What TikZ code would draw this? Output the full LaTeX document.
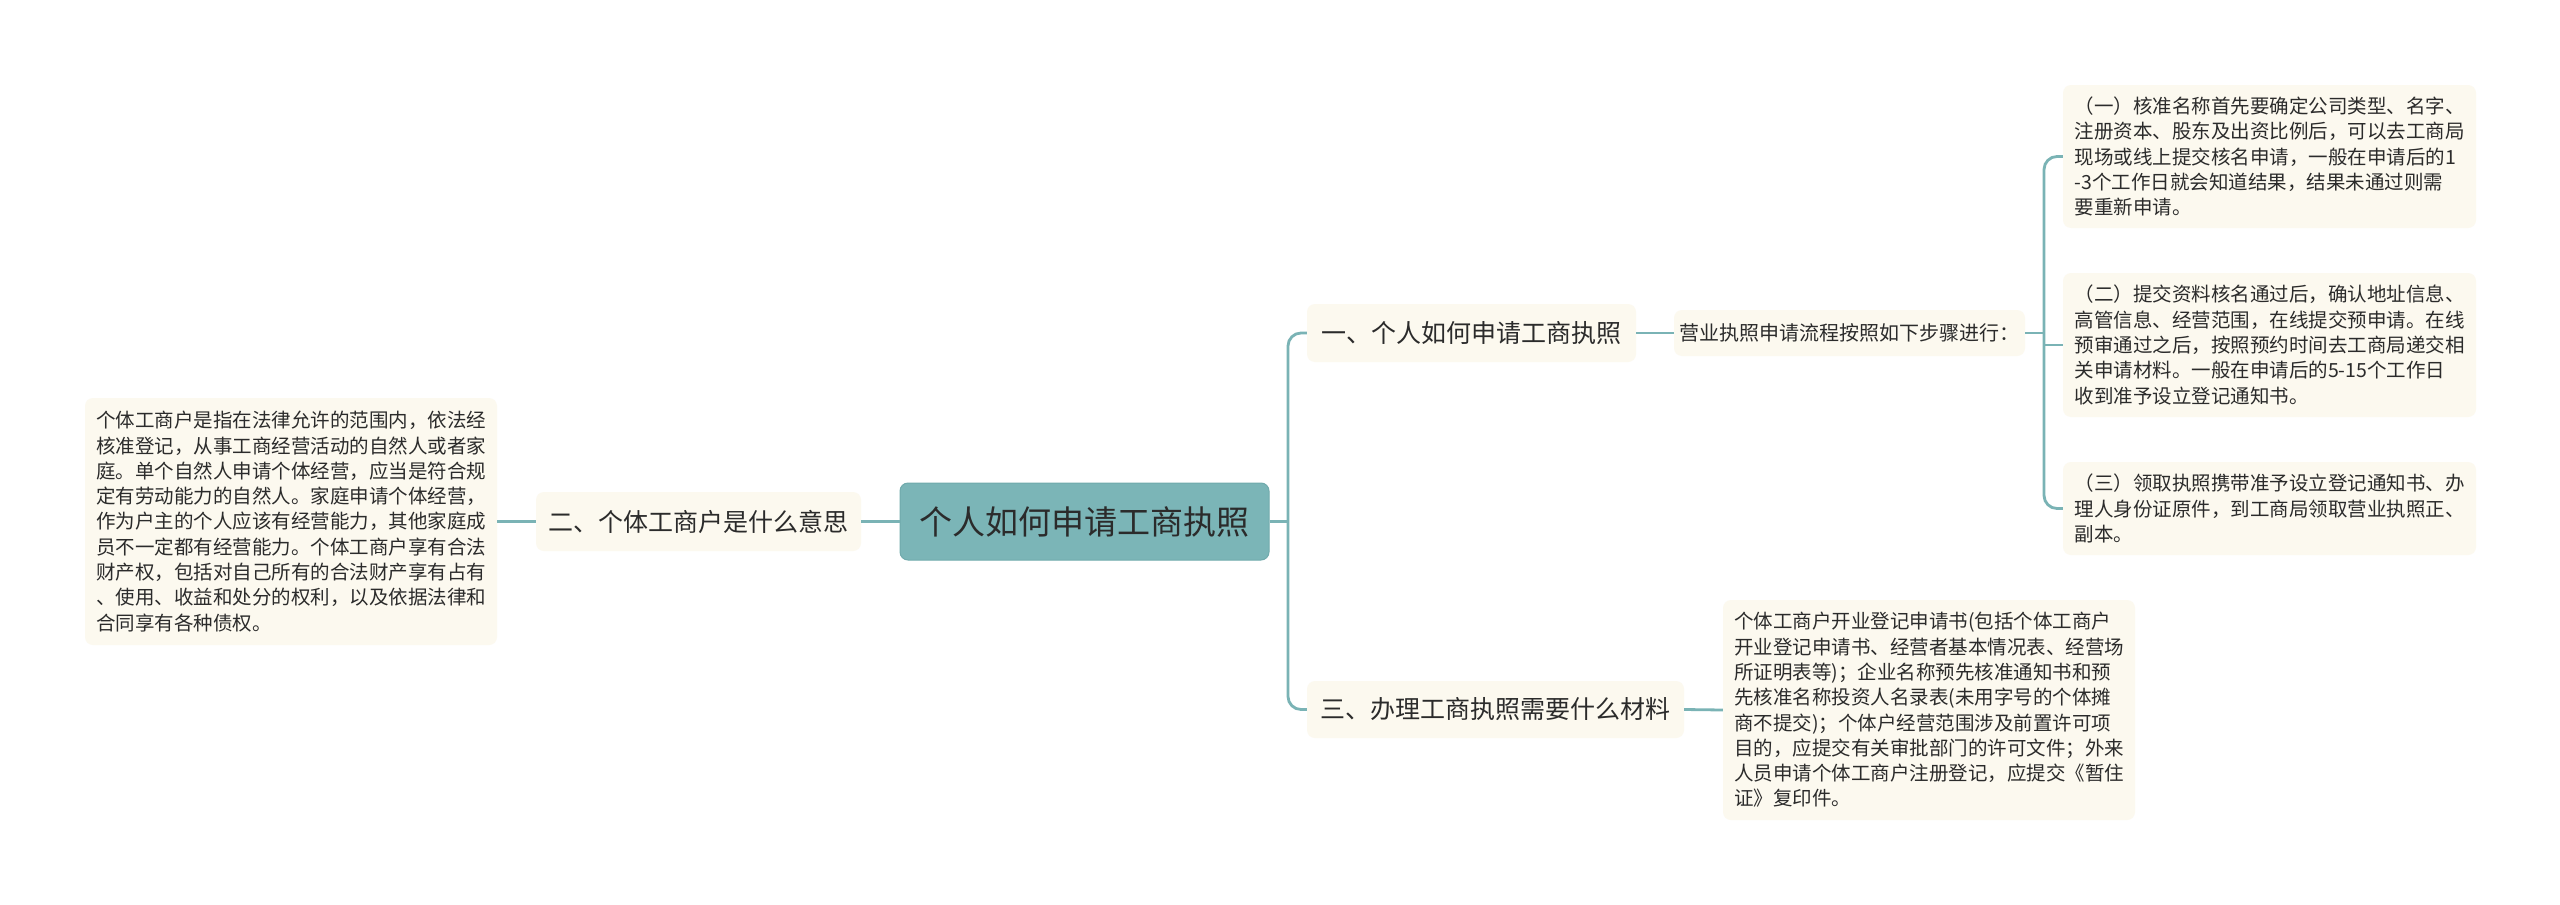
\documentclass[tikz,border=0pt]{standalone}
\usepackage{fontspec}
\setmainfont{Noto Sans CJK SC}
\definecolor{teal1}{HTML}{7AB3B5}
\definecolor{centerfill}{HTML}{7BB5B7}
\definecolor{centerdraw}{HTML}{70AAAC}
\definecolor{cream}{HTML}{FCF9EF}
\definecolor{txt}{HTML}{2B2B2B}
\tikzset{
  conn/.style={draw=teal1, line width=2.8pt, rounded corners=13pt},
  rootbox/.style={fill=centerfill, draw=centerdraw, line width=1pt, rounded corners=8pt,
    text=txt, font=\fontsize{33}{40}\selectfont, inner sep=0pt},
  branchbox/.style={fill=cream, rounded corners=8pt, text=txt,
    font=\fontsize{25}{30}\selectfont, inner sep=0pt},
  subbox/.style={fill=cream, rounded corners=8pt, text=txt,
    font=\fontsize{20}{24}\selectfont, inner sep=0pt},
  leafbox/.style={fill=cream, rounded corners=8pt, text=txt, align=left,
    font=\fontsize{19.5}{25.3}\selectfont, inner sep=0pt},
}
\begin{document}
\begin{tikzpicture}[x=1pt, y=-1pt]
\useasboundingbox[fill=white] (0,0) rectangle (2560,905);

\node[rootbox, minimum width=369pt, minimum height=77pt] (c) at (1084.5,521.5) {个人如何申请工商执照};

\node[branchbox, minimum width=325pt, minimum height=59pt] (b2) at (698.5,521.5) {二、个体工商户是什么意思};
\node[branchbox, minimum width=329pt, minimum height=58pt] (b1) at (1471.5,333) {一、个人如何申请工商执照};
\node[branchbox, minimum width=377pt, minimum height=57pt] (b3) at (1495.5,709.5) {三、办理工商执照需要什么材料};

\node[subbox, minimum width=351pt, minimum height=46pt] (s1) at (1849.5,333) {营业执照申请流程按照如下步骤进行：};

\node[leafbox, minimum width=413pt, minimum height=143pt] (r1) at (2269.5,156.5) {（一）核准名称首先要确定公司类型、名字、\\注册资本、股东及出资比例后，可以去工商局\\现场或线上提交核名申请，一般在申请后的1\\-3个工作日就会知道结果，结果未通过则需\\要重新申请。};
\node[leafbox, minimum width=413pt, minimum height=144pt] (r2) at (2269.5,345) {（二）提交资料核名通过后，确认地址信息、\\高管信息、经营范围，在线提交预申请。在线\\预审通过之后，按照预约时间去工商局递交相\\关申请材料。一般在申请后的5-15个工作日\\收到准予设立登记通知书。};
\node[leafbox, minimum width=413pt, minimum height=93pt] (r3) at (2269.5,508.5) {（三）领取执照携带准予设立登记通知书、办\\理人身份证原件，到工商局领取营业执照正、\\副本。};

\node[leafbox, minimum width=412pt, minimum height=220pt] (r4) at (1929,710) {个体工商户开业登记申请书(包括个体工商户\\开业登记申请书、经营者基本情况表、经营场\\所证明表等)；企业名称预先核准通知书和预\\先核准名称投资人名录表(未用字号的个体摊\\商不提交)；个体户经营范围涉及前置许可项\\目的，应提交有关审批部门的许可文件；外来\\人员申请个体工商户注册登记，应提交《暂住\\证》复印件。};

\node[leafbox, minimum width=412pt, minimum height=247pt] (L) at (291,521.5) {个体工商户是指在法律允许的范围内，依法经\\核准登记，从事工商经营活动的自然人或者家\\庭。单个自然人申请个体经营，应当是符合规\\定有劳动能力的自然人。家庭申请个体经营，\\作为户主的个人应该有经营能力，其他家庭成\\员不一定都有经营能力。个体工商户享有合法\\财产权，包括对自己所有的合法财产享有占有\\、使用、收益和处分的权利，以及依据法律和\\合同享有各种债权。};

\coordinate (jR) at (1288,521.5);
\coordinate (jS) at (2044,333);

\draw[conn] (c.east) -- (jR);
\draw[conn] (b1.west) -| (jR) |- (b3.west);
\draw[conn] (c.west) -- (b2.east);
\draw[conn] (b2.west) -- (L.east);
\draw[conn] (b1.east) -- (s1.west);
\draw[conn] (s1.east) -- (jS);
\draw[conn] (r1.west) -| (jS) |- (r3.west);
\draw[conn] (r2.west) -- (r2.west -| jS);
\draw[conn] (b3.east) -- (r4.west);
\end{tikzpicture}
\end{document}
